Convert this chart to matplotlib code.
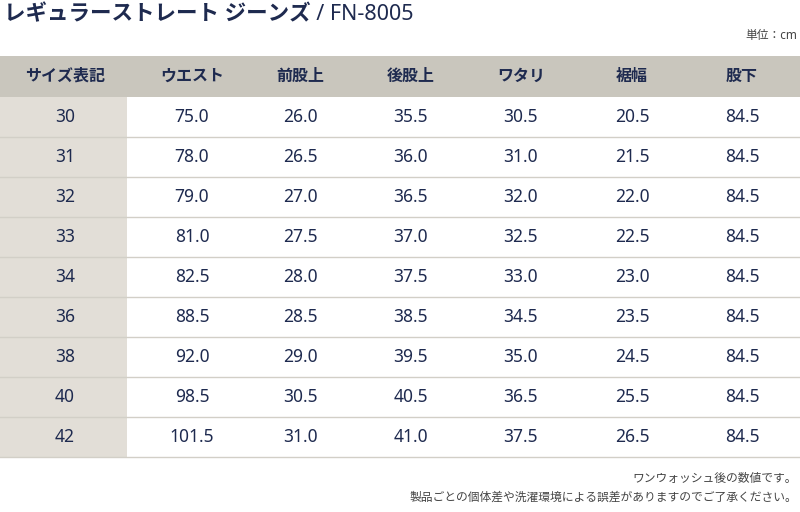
import matplotlib.pyplot as plt
import matplotlib.patches as patches

plt.rcParams['font.family'] = ['Noto Sans', 'Noto Sans CJK JP', 'DejaVu Sans']

headers = ["サイズ表記", "ウエスト", "前股上", "後股上", "ワタリ", "裾幅", "股下"]
sizes = ["30", "31", "32", "33", "34", "36", "38", "40", "42"]
waist = [75.0, 78.0, 79.0, 81.0, 82.5, 88.5, 92.0, 98.5, 101.5]
front_rise = [26.0, 26.5, 27.0, 27.5, 28.0, 28.5, 29.0, 30.5, 31.0]
back_rise = [35.5, 36.0, 36.5, 37.0, 37.5, 38.5, 39.5, 40.5, 41.0]
thigh = [30.5, 31.0, 32.0, 32.5, 33.0, 34.5, 35.0, 36.5, 37.5]
hem = [20.5, 21.5, 22.0, 22.5, 23.0, 23.5, 24.5, 25.5, 26.5]
inseam = [84.5] * 9

navy = '#1e2a4f'
fig = plt.figure(figsize=(8, 5.12), dpi=100)
ax = fig.add_axes([0, 0, 1, 1])
ax.set_xlim(0, 800)
ax.set_ylim(512, 0)
ax.axis('off')

ax.text(4, 15, "レギュラーストレート ジーンズ / FN-8005", fontsize=15.5, fontweight='bold', color=navy, va='center')
ax.text(797, 36, "単位：cm", fontsize=8.5, color='#444444', ha='right', va='center')

col_x = [65, 192, 300, 411, 521, 632, 742]
top, head_h, row_h = 56, 41, 40

ax.add_patch(patches.Rectangle((0, top), 800, head_h, facecolor='#c9c6bd', edgecolor='none'))
for x, h in zip(col_x, headers):
    ax.text(x, top + head_h / 2, h, fontsize=11.5, fontweight='bold', color=navy, ha='center', va='center')

cols = [waist, front_rise, back_rise, thigh, hem, inseam]
for i, s in enumerate(sizes):
    y0 = top + head_h + i * row_h
    ax.add_patch(patches.Rectangle((0, y0), 127, row_h, facecolor='#e2ded7', edgecolor='none'))
    ax.plot([0, 800], [y0 + row_h, y0 + row_h], color='#d2cfc7', lw=1)
    ax.text(col_x[0], y0 + row_h / 2, s, fontsize=12.5, fontweight='bold', color=navy, ha='center', va='center')
    for x, c in zip(col_x[1:], cols):
        ax.text(x, y0 + row_h / 2, f"{c[i]:.1f}", fontsize=12.5, color=navy, ha='center', va='center')

ax.text(797, 478, "ワンウォッシュ後の数値です。", fontsize=8.5, color='#444444', ha='right', va='center')
ax.text(797, 497, "製品ごとの個体差や洗濯環境による誤差がありますのでご了承ください。", fontsize=8.5, color='#444444', ha='right', va='center')

fig.savefig('out.png', dpi=100)
